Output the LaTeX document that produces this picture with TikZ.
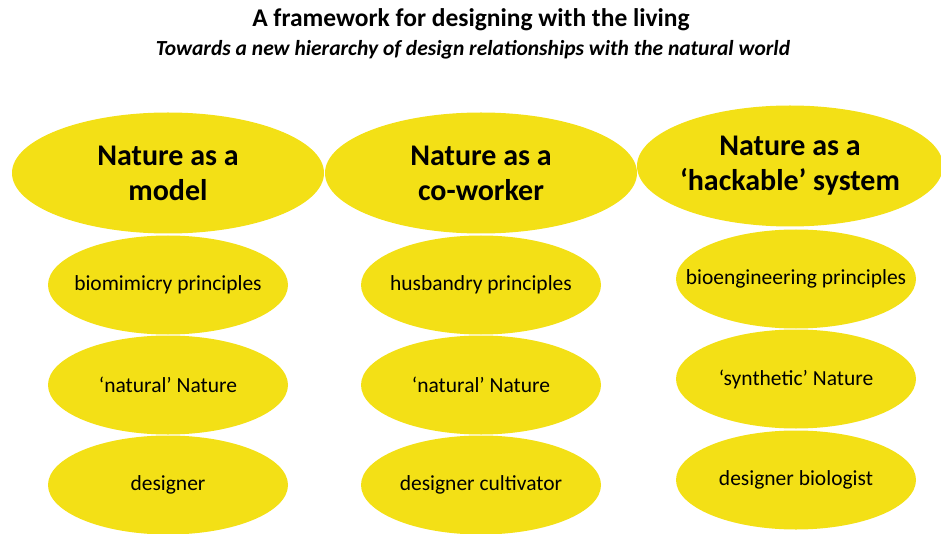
\documentclass[tikz,border=0pt]{standalone}
\usepackage{fontspec}
\setmainfont{Carlito}
\usetikzlibrary{shapes.geometric}
\definecolor{natyellow}{RGB}{243,224,22}

\begin{document}
\begin{tikzpicture}[x=1pt,y=-1pt,
  big/.style={ellipse, fill=natyellow, minimum width=312pt, minimum height=121pt,
    inner xsep=-40pt, inner ysep=-10pt, align=center,
    font=\fontsize{30}{35}\selectfont\bfseries},
  small/.style={ellipse, fill=natyellow, minimum width=240pt, minimum height=99pt,
    inner xsep=-50pt, inner ysep=0pt, font=\fontsize{21.5}{25}\selectfont}]
  \useasboundingbox (0,0) rectangle (941,534);

  % Titles
  \node[font=\fontsize{25.5}{30}\selectfont\bfseries] (title) at (471,20)
    {A framework for designing with the living};
  \node[font=\fontsize{21.5}{25}\selectfont\bfseries\itshape] (subtitle) at (473,50)
    {Towards a new hierarchy of design relationships with the natural world};

  % Model column
  \node[small] (M1) at (168,285) {biomimicry principles};
  \node[small] (M2) at (168,385) {‘natural’ Nature};
  \node[small] (M3) at (168,485) {designer};

  % Co-worker column
  \node[small] (C1) at (481,285) {husbandry principles};
  \node[small] (C2) at (481,385) {‘natural’ Nature};
  \node[small] (C3) at (481,485) {designer cultivator};

  % Hackable column
  \node[small] (H1) at (796,279) {bioengineering principles};
  \node[small] (H2) at (796,379) {‘synthetic’ Nature};
  \node[small] (H3) at (796,480) {designer biologist};

  % Headers
  \node[big] (M) at (168,173) {Nature as a\\model};
  \node[big] (C) at (481,173) {Nature as a\\co-worker};
  \node[big, minimum width=306pt] (H) at (790,166) {Nature as a\\‘hackable’ system};
\end{tikzpicture}
\end{document}
